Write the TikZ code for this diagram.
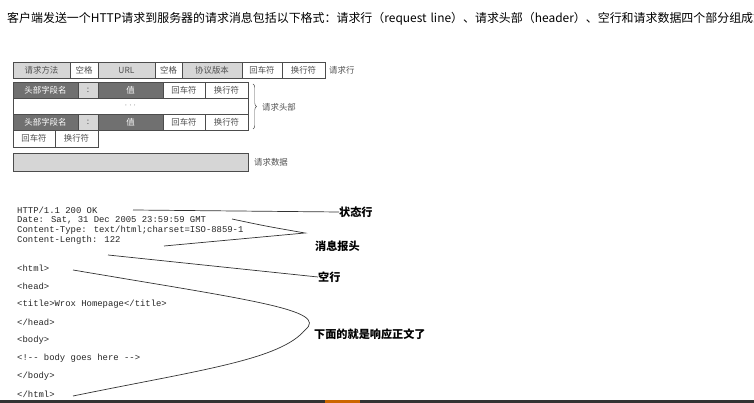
\documentclass[tikz,border=0pt]{standalone}
\usepackage{fontspec}
\setmainfont{Liberation Sans}
\newfontfamily\cjk{Noto Sans CJK SC}
\newfontfamily\codefont{Liberation Mono}
\usetikzlibrary{decorations.pathreplacing}
\definecolor{lightcell}{HTML}{D6D6D6}
\definecolor{darkcell}{HTML}{707070}
\definecolor{celltext}{HTML}{505050}

\begin{document}
\begin{tikzpicture}[
  x=0.03cm, y=-0.03cm,
  cell/.style={draw=black!70, line width=0.5pt},
  celllabel/.style={font=\cjk\fontsize{7.2}{8}\selectfont, text=celltext},
  side/.style={font=\cjk\fontsize{7.2}{8}\selectfont, text=celltext, anchor=west},
  code/.style={font=\codefont\fontsize{7.6}{8}\selectfont, anchor=west, inner sep=0pt, text=black!85},
  note/.style={font=\cjk\bfseries\fontsize{9.5}{10}\selectfont, anchor=west, inner sep=0pt},
  pointer/.style={line width=0.6pt, black!80}
]
\useasboundingbox (0,0) rectangle (754,403);

% intro text
\node[anchor=north west, inner sep=0pt, font=\cjk\fontsize{10.2}{17}\selectfont, text width=22.2cm, align=left] (intro) at (7,12)
  {客户端发送一个HTTP请求到服务器的请求消息包括以下格式：请求行（request line）、请求头部（header）、空行和请求数据四个部分组成式。};

% request line
\foreach \xa/\xb/\col/\txt in {13/70/lightcell/请求方法, 70/98/white/空格, 98/155/lightcell/URL,
    155/182/white/空格, 182/242/lightcell/协议版本, 242/282/white/回车符, 282/325/white/换行符}
  \draw[cell, fill=\col] (\xa,62) rectangle (\xb,78) node[midway, celllabel] {\txt};
\node[side] (reqline) at (325,70) {请求行};

% header rows
\foreach \ya/\yb in {82/98, 114/130} {
  \draw[cell, fill=darkcell] (13,\ya) rectangle (78,\yb) node[midway, celllabel, text=white] {头部字段名};
  \draw[cell, fill=lightcell] (78,\ya) rectangle (98,\yb) node[midway, celllabel] {:};
  \draw[cell, fill=darkcell] (98,\ya) rectangle (163,\yb) node[midway, celllabel, text=white] {值};
  \draw[cell, fill=white] (163,\ya) rectangle (205,\yb) node[midway, celllabel] {回车符};
  \draw[cell, fill=white] (205,\ya) rectangle (248,\yb) node[midway, celllabel] {换行符};
}
\draw[cell, fill=white] (13,98) rectangle (248,114) node[midway, celllabel] {$\cdots$};
\draw[decorate, decoration={brace, amplitude=3pt}, black!70] (253,84) -- (253,129);
\node[side] (header) at (258,107) {请求头部};

% blank line
\draw[cell, fill=white] (13,130) rectangle (55,147) node[midway, celllabel] {回车符};
\draw[cell, fill=white] (55,130) rectangle (98,147) node[midway, celllabel] {换行符};

% request data
\draw[cell, fill=lightcell] (13,153) rectangle (248,171);
\node[side] (data) at (250,162) {请求数据};

% response sample
\node[code] (status) at (17,210) {HTTP/1.1 200 OK};
\node[code] (date) at (17,220) {Date: Sat, 31 Dec 2005 23:59:59 GMT};
\node[code] (ctype) at (17,230) {Content-Type: text/html;charset=ISO-8859-1};
\node[code] (clen) at (17,240) {Content-Length: 122};
\node[code] (l1) at (17,268) {<html>};
\node[code] (l2) at (17,286) {<head>};
\node[code] (l3) at (17,304) {<title>Wrox Homepage</title>};
\node[code] (l4) at (17,322) {</head>};
\node[code] (l5) at (17,340) {<body>};
\node[code] (l6) at (17,358) {<!-{}- body goes here -{}->};
\node[code] (l7) at (17,376) {</body>};
\node[code] (l8) at (17,394) {</html>};

% notes
\node[note] (n1) at (339,212) {状态行};
\node[note] (n2) at (315,246) {消息报头};
\node[note] (n3) at (318,277) {空行};
\node[note] (n4) at (314,334) {下面的就是响应正文了};

\coordinate (tip2) at (305,233);
\coordinate (tip4) at (305,330);
\draw[pointer] (133,210) -- (n1.west);
\draw[pointer] (232,219) .. controls (265,226) .. (tip2) -- (164,246);
\draw[pointer] (108,255) -- (n3.west);
\draw[pointer] (73,270) .. controls (250,300) and (330,310) .. (tip4)
  .. controls (280,360) and (200,370) .. (73,396);

% bottom edge
\fill[black!80] (0,400) rectangle (754,403);
\fill[orange!80!black] (325,400) rectangle (360,403);
\end{tikzpicture}
\end{document}
